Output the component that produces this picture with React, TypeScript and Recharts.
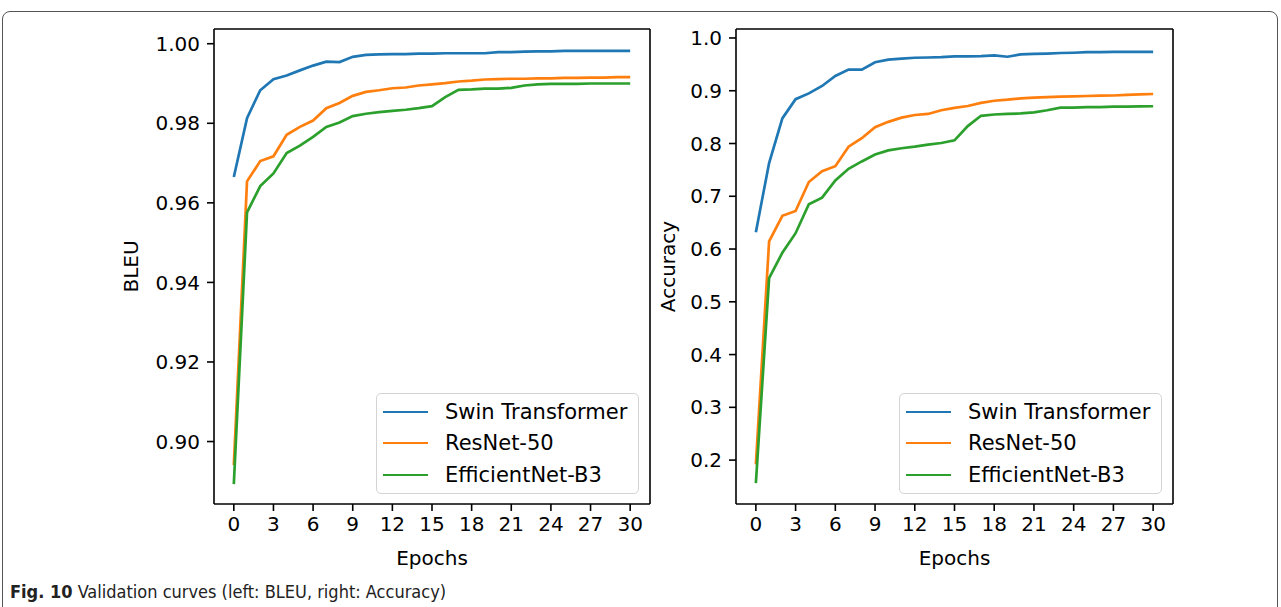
import React from 'react';
import { LineChart, Line, XAxis, YAxis, Legend, ReferenceLine } from 'recharts';

const epochs = [0, 1, 2, 3, 4, 5, 6, 7, 8, 9, 10, 11, 12, 13, 14, 15, 16, 17, 18, 19, 20, 21, 22, 23, 24, 25, 26, 27, 28, 29, 30];
const xTicks = [0, 3, 6, 9, 12, 15, 18, 21, 24, 27, 30];
const xDomain: [number, number] = [-1.5, 31.5];

const swinBleu = [0.9665, 0.9813, 0.9883, 0.9911, 0.992, 0.9933, 0.9945, 0.9955, 0.9954, 0.9967, 0.9972, 0.9973, 0.9974, 0.9974, 0.9975, 0.9975, 0.9976, 0.9976, 0.9976, 0.9976, 0.9979, 0.9979, 0.998, 0.9981, 0.9981, 0.9982, 0.9982, 0.9982, 0.9982, 0.9982, 0.9982];
const resnetBleu = [0.8941, 0.9654, 0.9705, 0.9717, 0.9771, 0.9791, 0.9807, 0.9838, 0.9851, 0.9869, 0.9879, 0.9883, 0.9888, 0.989, 0.9895, 0.9898, 0.9901, 0.9905, 0.9907, 0.991, 0.9911, 0.9912, 0.9912, 0.9913, 0.9913, 0.9914, 0.9914, 0.9915, 0.9915, 0.9916, 0.9916];
const effBleu = [0.8893, 0.9576, 0.9642, 0.9674, 0.9725, 0.9744, 0.9766, 0.9791, 0.9802, 0.9818, 0.9824, 0.9828, 0.9831, 0.9834, 0.9838, 0.9843, 0.9866, 0.9884, 0.9885, 0.9887, 0.9887, 0.9889, 0.9895, 0.9898, 0.9899, 0.9899, 0.9899, 0.99, 0.99, 0.99, 0.99];

const swinAcc = [0.632, 0.763, 0.8475, 0.884, 0.895, 0.909, 0.928, 0.94, 0.94, 0.954, 0.959, 0.961, 0.9625, 0.963, 0.9636, 0.965, 0.965, 0.9656, 0.9669, 0.9644, 0.969, 0.97, 0.9705, 0.9715, 0.972, 0.973, 0.973, 0.9735, 0.9737, 0.9738, 0.9738];
const resnetAcc = [0.192, 0.6145, 0.663, 0.672, 0.727, 0.7475, 0.757, 0.794, 0.81, 0.831, 0.841, 0.849, 0.854, 0.856, 0.863, 0.8675, 0.871, 0.877, 0.881, 0.883, 0.8856, 0.887, 0.888, 0.889, 0.8894, 0.89, 0.8906, 0.891, 0.892, 0.893, 0.8938];
const effAcc = [0.1565, 0.545, 0.593, 0.63, 0.685, 0.6975, 0.73, 0.752, 0.766, 0.779, 0.787, 0.791, 0.794, 0.798, 0.801, 0.806, 0.833, 0.8525, 0.855, 0.856, 0.857, 0.859, 0.863, 0.868, 0.868, 0.869, 0.869, 0.87, 0.87, 0.8705, 0.8706];

const bleuTicks = [0.9, 0.92, 0.94, 0.96, 0.98, 1.0];
const accTicks = [0.2, 0.3, 0.4, 0.5, 0.6, 0.7, 0.8, 0.9, 1.0];

const seriesNames = ['Swin Transformer', 'ResNet-50', 'EfficientNet-B3'];
const seriesColors = ['#1f77b4', '#ff7f0e', '#2ca02c'];

const bleuData = epochs.map((e, i) => ({ epoch: e, swin: swinBleu[i], resnet: resnetBleu[i], eff: effBleu[i] }));
const accData = epochs.map((e, i) => ({ epoch: e, swin: swinAcc[i], resnet: resnetAcc[i], eff: effAcc[i] }));

const FONT = "'DejaVu Sans', sans-serif";
const tickStyle = { fontFamily: FONT, fontSize: 20, fill: '#000' };
const axisStroke = { stroke: '#000', strokeWidth: 1.6 };

const LegendBox = (props: any) => {
  const payload = [...(props.payload || [])].sort(
    (a: any, b: any) => seriesNames.indexOf(a.value) - seriesNames.indexOf(b.value)
  );
  return (
    <div
      style={{
        width: 263,
        height: 101,
        boxSizing: 'border-box',
        border: '1.5px solid #d4d4d4',
        borderRadius: 5,
        background: 'rgba(255,255,255,0.85)',
        paddingTop: 2,
        fontFamily: FONT,
        fontSize: 21,
        color: '#000',
      }}
    >
      {payload.map((p: any) => (
        <div key={p.value} style={{ display: 'flex', alignItems: 'center', height: 31.5, whiteSpace: 'nowrap' }}>
          <span style={{ display: 'inline-block', width: 45, height: 0, borderTop: `2.8px solid ${p.color}`, marginLeft: 6, marginRight: 17 }} />
          <span>{p.value}</span>
        </div>
      ))}
    </div>
  );
};

const yTitle = (text: string, inset: number) => (props: any) => {
  const vb = props.viewBox || { x: 0, y: 0, width: 0, height: 0 };
  const cx = vb.x + inset;
  const cy = vb.y + vb.height / 2;
  return (
    <text x={cx} y={cy} transform={`rotate(-90, ${cx}, ${cy})`} textAnchor="middle" dominantBaseline="central" style={{ fontFamily: FONT, fontSize: 20, fill: '#000' }}>
      {text}
    </text>
  );
};

const xTitle = (text: string) => (props: any) => {
  const vb = props.viewBox || { x: 0, y: 0, width: 0, height: 0 };
  return (
    <text x={vb.x + vb.width / 2} y={vb.y + 54} textAnchor="middle" dominantBaseline="central" style={{ fontFamily: FONT, fontSize: 20, fill: '#000' }}>
      {text}
    </text>
  );
};

type PanelProps = {
  data: any[];
  width: number;
  marginLeft: number;
  marginRight: number;
  yWidth: number;
  domain: [number, number];
  yTicks: number[];
  digits: number;
  yLabel: string;
  yInset: number;
  legendLeft: number;
};

const Panel = ({ data, width, marginLeft, marginRight, yWidth, domain, yTicks, digits, yLabel, yInset, legendLeft }: PanelProps) => (
  <LineChart width={width} height={600} data={data} margin={{ top: 29, right: marginRight, bottom: 36, left: marginLeft }}>
    <XAxis
      dataKey="epoch"
      type="number"
      domain={xDomain}
      ticks={xTicks}
      interval={0}
      allowDataOverflow
      height={60}
      tickSize={7}
      tickMargin={6}
      tick={tickStyle}
      axisLine={axisStroke}
      tickLine={axisStroke}
      label={xTitle('Epochs')}
    />
    <YAxis
      type="number"
      domain={domain}
      ticks={yTicks}
      interval={0}
      allowDataOverflow
      width={yWidth}
      tickSize={7}
      tickMargin={7}
      tick={tickStyle}
      tickFormatter={(v: number) => v.toFixed(digits)}
      axisLine={axisStroke}
      tickLine={axisStroke}
      label={yTitle(yLabel, yInset)}
    />
    <ReferenceLine y={domain[1]} stroke="#000" strokeWidth={1.6} ifOverflow="visible" />
    <ReferenceLine x={xDomain[1]} stroke="#000" strokeWidth={1.6} ifOverflow="visible" />
    <Line dataKey="swin" name={seriesNames[0]} stroke={seriesColors[0]} strokeWidth={2.7} dot={false} isAnimationActive={false} />
    <Line dataKey="resnet" name={seriesNames[1]} stroke={seriesColors[1]} strokeWidth={2.7} dot={false} isAnimationActive={false} />
    <Line dataKey="eff" name={seriesNames[2]} stroke={seriesColors[2]} strokeWidth={2.7} dot={false} isAnimationActive={false} />
    <Legend
      layout="vertical"
      align="center"
      verticalAlign="middle"
      content={<LegendBox />}
      wrapperStyle={{ left: legendLeft, top: 393, width: 263, height: 101, right: 'auto', bottom: 'auto' }}
    />
  </LineChart>
);

export default function App() {
  return (
    <div style={{ position: 'absolute', left: 0, top: 0, width: 1281, height: 607, background: '#fff', overflow: 'hidden' }}>
      <div style={{ position: 'absolute', left: 2, top: 11, width: 1276, height: 640, border: '1.5px solid #555', borderRadius: 8, boxSizing: 'border-box' }} />
      <div style={{ position: 'absolute', left: 0, top: 0 }}>
        <Panel
          data={bleuData}
          width={700}
          marginLeft={100}
          marginRight={50}
          yWidth={114}
          domain={[0.8843, 1.0037]}
          yTicks={bleuTicks}
          digits={2}
          yLabel="BLEU"
          yInset={31}
          legendLeft={376}
        />
      </div>
      <div style={{ position: 'absolute', left: 640, top: 0 }}>
        <Panel
          data={accData}
          width={641}
          marginLeft={20}
          marginRight={108}
          yWidth={76}
          domain={[0.1168, 1.017]}
          yTicks={accTicks}
          digits={1}
          yLabel="Accuracy"
          yInset={8}
          legendLeft={259}
        />
      </div>
      <div style={{ position: 'absolute', left: 10, top: 580, fontFamily: "'DejaVu Sans Condensed', sans-serif", fontSize: 18, color: '#222', whiteSpace: 'nowrap', lineHeight: '24px' }}>
        <b>Fig. 10</b>
        <span>{'  '}</span>
        <span>Validation curves (left: BLEU, right: Accuracy)</span>
      </div>
    </div>
  );
}
